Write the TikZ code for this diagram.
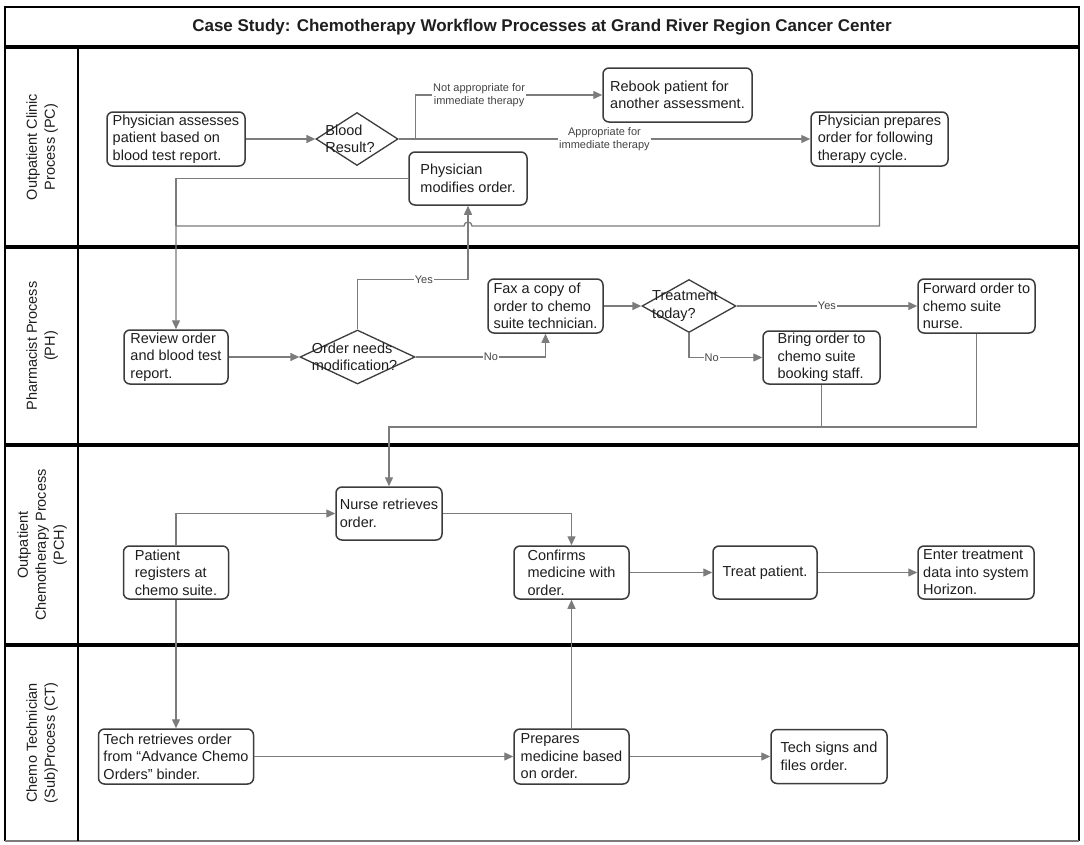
\documentclass[tikz,border=0pt]{standalone}
\usepackage{fontspec}
\setmainfont{Liberation Sans}
\usetikzlibrary{shapes.geometric,arrows.meta,calc}
\definecolor{linec}{HTML}{7C7C7C}
\definecolor{boxc}{HTML}{3C3C3C}
\definecolor{labc}{HTML}{444444}
\definecolor{txtc}{HTML}{1E1E1E}

\begin{document}
\begin{tikzpicture}[x=1pt,y=-1pt,
  every node/.style={font=\fontsize{14.5}{17.5}\selectfont, text=txtc},
  stepbox/.style={draw=boxc, line width=1.5pt, rounded corners=6pt, fill=white,
    inner sep=0pt, align=left},
  decision/.style={diamond, draw=boxc, line width=1.3pt, fill=white, inner sep=0pt},
  dtext/.style={align=left, inner sep=0pt},
  flow/.style={draw=linec, line width=1.3pt, -{Triangle[length=9pt,width=8pt]}},
  plain/.style={draw=linec, line width=1.3pt},
  elabel/.style={fill=white, inner sep=1pt, text=labc,
    font=\fontsize{11}{13.5}\selectfont, align=center},
  lanetext/.style={rotate=90, align=center, font=\fontsize{14.5}{18}\selectfont},
  lanerule/.style={line width=3.5pt, black},
]
% page
\fill[white] (0,0) rectangle (1084,844);
\useasboundingbox (0,0) rectangle (1084,844);

% swimlane frame
\draw[line width=2pt, black] (5,841) -- (5,7) -- (1079,7) -- (1079,841);
\draw[line width=1.2pt, linec] (5,841) -- (1079,841);
\draw[lanerule] (5,47) -- (1079,47);
\draw[lanerule] (5,247) -- (1079,247);
\draw[lanerule] (5,445) -- (1079,445);
\draw[lanerule] (5,645) -- (1079,645);
\draw[line width=1.6pt, black] (78,47) -- (78,841);

% title and lane names
\node[font=\bfseries\fontsize{17}{20}\selectfont] (title) at (542,27)
  {Case Study: Chemotherapy Workflow Processes at Grand River Region Cancer Center};
\node[lanetext] (lpc) at (42,147) {Outpatient Clinic\\Process (PC)};
\node[lanetext] (lph) at (42,346) {Pharmacist Process\\(PH)};
\node[lanetext] (lpch) at (42,545) {Outpatient\\Chemotherapy Process\\(PCH)};
\node[lanetext] (lct) at (42,743) {Chemo Technician\\(Sub)Process (CT)};

% outpatient clinic
\node[stepbox, minimum width=138, minimum height=54] (assess) at (176,139)
  {Physician assesses\\patient based on\\blood test report.};
\node[decision, minimum width=82, minimum height=53,
  label={[dtext, xshift=-7pt]center:Blood\\Result?}] (br) at (357,139) {};
\node[stepbox, minimum width=118, minimum height=53] (mod) at (468,178.5)
  {Physician\\modifies order.};
\node[stepbox, minimum width=149, minimum height=54] (rebook) at (677.5,95)
  {Rebook patient for\\another assessment.};
\node[stepbox, minimum width=137, minimum height=54] (prep) at (879.5,139)
  {Physician prepares\\order for following\\therapy cycle.};

% pharmacist
\node[stepbox, minimum width=104, minimum height=54] (rev) at (176,357)
  {Review order\\and blood test\\report.};
\node[decision, minimum width=115, minimum height=54,
  label={[dtext, xshift=-3pt]center:Order needs\\modification?}] (ond) at (357.5,357) {};
\node[stepbox, minimum width=115, minimum height=54] (fax) at (545.5,306)
  {Fax a copy of\\order to chemo\\suite technician.};
\node[decision, minimum width=94, minimum height=53,
  label={[dtext, xshift=-4pt]center:Treatment\\today?}] (td) at (689,306) {};
\node[stepbox, minimum width=117, minimum height=53] (bring) at (821.5,357.5)
  {Bring order to\\chemo suite\\booking staff.};
\node[stepbox, minimum width=117, minimum height=54] (fwd) at (976.5,306)
  {Forward order to\\chemo suite\\nurse.};

% outpatient chemotherapy
\node[stepbox, minimum width=106, minimum height=53] (nurse) at (389,513.5)
  {Nurse retrieves\\order.};
\node[stepbox, minimum width=105, minimum height=53] (pat) at (176,572.5)
  {Patient\\registers at\\chemo suite.};
\node[stepbox, minimum width=115, minimum height=53] (conf) at (571.5,572.5)
  {Confirms\\medicine with\\order.};
\node[stepbox, minimum width=104, minimum height=53] (treat) at (765,572.5)
  {Treat patient.};
\node[stepbox, minimum width=116, minimum height=53] (enter) at (976,572.5)
  {Enter treatment\\data into system\\Horizon.};

% chemo technician
\node[stepbox, minimum width=155, minimum height=55] (tech) at (176,756.5)
  {Tech retrieves order\\from “Advance Chemo\\Orders” binder.};
\node[stepbox, minimum width=115, minimum height=55] (prepm) at (571.5,756.5)
  {Prepares\\medicine based\\on order.};
\node[stepbox, minimum width=116, minimum height=54] (sign) at (829,756.5)
  {Tech signs and\\files order.};

% routing levels
\coordinate (jy) at (0,226);
\coordinate (bus) at (0,427);
\coordinate (hopR) at ($(mod.south |- jy)+(4,0)$);

% connectors: clinic
\draw[flow] (assess.east) -- (br.west);
\draw[flow] (br.east) -- ++(17,0) |- node[elabel, pos=0.67]
  {Not appropriate for\\immediate therapy} (rebook.west);
\draw[flow] (br.east) -- node[elabel] {Appropriate for\\immediate therapy} (prep.west);
\draw[flow] (prep.south) |- (hopR)
  arc[start angle=0, end angle=180, radius=4pt] -| (rev.north);
\draw[plain] (mod.west) -| (rev.north |- jy);

% connectors: pharmacist
\draw[flow] (rev.east) -- (ond.west);
\draw[flow] (ond.north) -- ++(0,-50) -| node[elabel, pos=0.3] {Yes} (mod.south);
\draw[flow] (ond.east) -| node[elabel, pos=0.29] {No} (fax.south);
\draw[flow] (fax.east) -- (td.west);
\draw[flow] (td.east) -- node[elabel] {Yes} (fwd.west);
\draw[flow] (td.south) |- node[elabel, pos=0.655] {No} (bring.west);
\draw[flow] (fwd.south) |- (nurse.north |- bus) -- (nurse.north);
\draw[plain] (bring.south) -- (bring.south |- bus);

% connectors: chemotherapy suite
\draw[flow] (pat.north) |- (nurse.west);
\draw[flow] (nurse.east) -| (conf.north);
\draw[flow] (conf.east) -- (treat.west);
\draw[flow] (treat.east) -- (enter.west);
\draw[flow] (pat.south) -- (tech.north);

% connectors: technician
\draw[flow] (tech.east) -- (prepm.west);
\draw[flow] (prepm.north) -- (conf.south);
\draw[flow] (prepm.east) -- (sign.west);
\end{tikzpicture}
\end{document}
